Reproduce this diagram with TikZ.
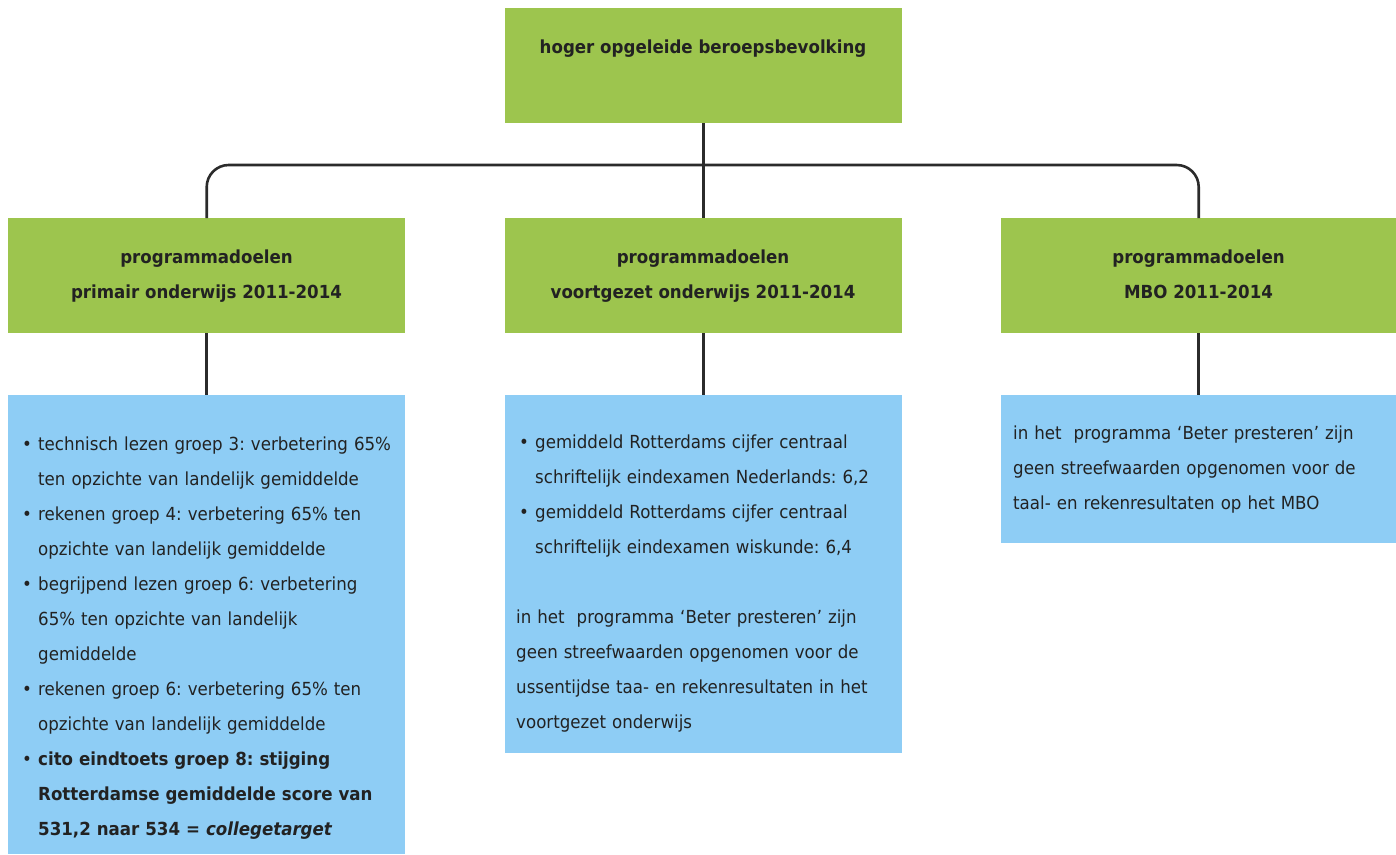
\documentclass[tikz,border=0pt]{standalone}
\usepackage{fontspec}
\setmainfont{DejaVu Sans}[FakeStretch=0.925]
\definecolor{boxgreen}{HTML}{9DC54E}
\definecolor{boxblue}{HTML}{8ECDF5}
\definecolor{ink}{HTML}{222222}
\definecolor{wire}{HTML}{2B2B2B}
\frenchspacing
\newcommand\bitem[1]{\par\hangindent=16pt\hangafter=1\noindent\makebox[16pt][l]{\textbullet}#1}
\tikzset{
  gbox/.style={fill=boxgreen, draw=none, anchor=north west, inner sep=0pt},
  bbox/.style={fill=boxblue, draw=none, anchor=north west, inner sep=0pt},
  gtitle/.style={anchor=north, inner sep=0pt, align=center, text=ink,
    font=\fontsize{18}{35}\selectfont\bfseries},
  btext/.style={anchor=north west, inner sep=0pt, text width=385pt, text=ink,
    font=\fontsize{18}{35}\selectfont\frenchspacing},
  conn/.style={draw=wire, line width=2.6pt}
}
\begin{document}
\begin{tikzpicture}[x=1pt,y=-1pt]
\useasboundingbox (0,0) rectangle (1396,854);
% green boxes
\node[gbox, minimum width=397pt, minimum height=115pt] (top) at (505,8) {};
\node[gbox, minimum width=397pt, minimum height=115pt] (g1) at (8,218) {};
\node[gbox, minimum width=397pt, minimum height=115pt] (g2) at (505,218) {};
\node[gbox, minimum width=395pt, minimum height=115pt] (g3) at (1001,218) {};
% blue boxes
\node[bbox, minimum width=397pt, minimum height=459pt] (b1) at (8,395) {};
\node[bbox, minimum width=397pt, minimum height=358pt] (b2) at (505,395) {};
\node[bbox, minimum width=395pt, minimum height=148pt] (b3) at (1001,395) {};
% connectors
\coordinate (bar) at (703,165);
\draw[conn] (top.south) -- (g2.north);
\draw[conn, rounded corners=22pt] (g1.north) |- (bar) -| (g3.north);
\draw[conn] (g1.south) -- (b1.north);
\draw[conn] (g2.south) -- (b2.north);
\draw[conn] (g3.south) -- (b3.north);
% titles
\node[gtitle] (ttop) at (703,29) {\strut hoger opgeleide beroepsbevolking};
\node[gtitle] (t1) at (206.5,239) {\strut programmadoelen\\\strut primair onderwijs 2011-2014};
\node[gtitle] (t2) at (703,239) {\strut programmadoelen\\\strut voortgezet onderwijs 2011-2014};
\node[gtitle] (t3) at (1198.5,239) {\strut programmadoelen\\\strut MBO 2011-2014};
% texts
\node[btext] (x1) at (22,415.5) {\raggedright
\bitem{\strut technisch lezen groep 3: verbetering 65\%\newline ten opzichte van landelijk gemiddelde}
\bitem{rekenen groep 4: verbetering 65\% ten\newline opzichte van landelijk gemiddelde}
\bitem{begrijpend lezen groep 6: verbetering\newline 65\% ten opzichte van landelijk\newline gemiddelde}
\bitem{rekenen groep 6: verbetering 65\% ten\newline opzichte van landelijk gemiddelde}
\bitem{\textbf{cito eindtoets groep 8: stijging\newline Rotterdamse gemiddelde score van\newline 531,2 naar 534 = \textit{collegetarget}}}\par};
\node[btext] (x2) at (519,413.5) {\raggedright
\bitem{\strut gemiddeld Rotterdams cijfer centraal\newline schriftelijk eindexamen Nederlands: 6,2}
\bitem{gemiddeld Rotterdams cijfer centraal\newline schriftelijk eindexamen wiskunde: 6,4}\par
\vspace{35pt}
\leftskip=-3pt\noindent in het\ \ programma ‘Beter presteren’ zijn\newline geen streefwaarden opgenomen voor de\newline ussentijdse taa- en rekenresultaten in het\newline voortgezet onderwijs\par};
\node[btext] (x3) at (1013,414.5) {\raggedright\noindent
\strut in het\ \ programma ‘Beter presteren’ zijn\newline geen streefwaarden opgenomen voor de\newline taal- en rekenresultaten op het MBO\par};
\end{tikzpicture}
\end{document}
